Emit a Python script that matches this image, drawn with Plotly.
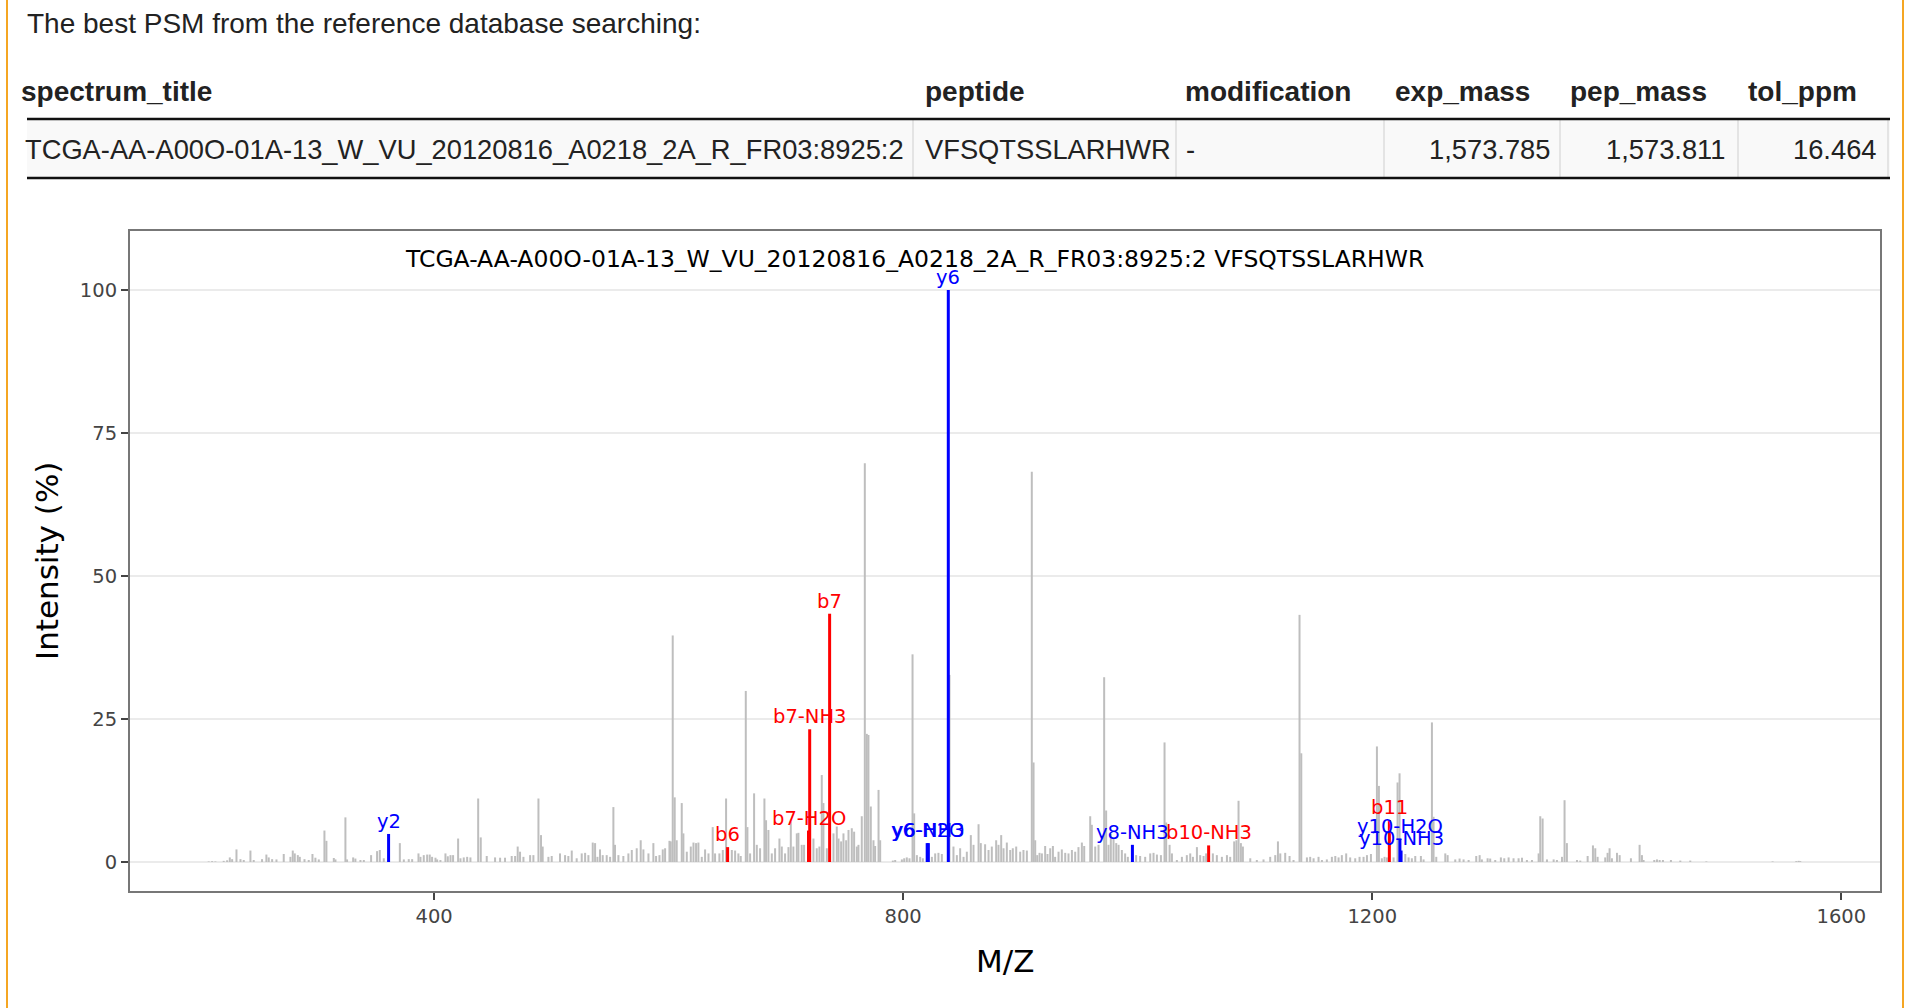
import plotly.graph_objects as go

# ---------------- data ----------------
gray_mz = [207.8, 210.7, 213.5, 220.6, 223.5, 225.8, 227.8, 231.5, 234.9, 237.7, 243.4, 246.2,
           253.3, 257.0, 259.0, 261.9, 265.6, 271.8, 277.5, 279.5, 281.2, 283.8, 285.5, 289.5,
           293.1, 296.3, 298.8, 301.7, 306.5, 308.2, 314.5, 315.9, 324.4, 325.8, 331.0, 332.9,
           337.2, 340.1, 346.3, 351.4, 353.7, 357.1, 370.8, 374.2, 378.4, 381.3, 386.7, 388.4,
           391.2, 394.1, 396.3, 398.3, 401.2, 402.6, 405.4, 409.7, 411.7, 414.0, 416.2, 420.5,
           422.5, 425.3, 428.2, 431.0, 437.6, 439.8, 444.9, 452.0, 456.3, 460.5, 466.2, 469.1,
           471.3, 473.3, 476.2, 481.9, 484.7, 489.0, 491.2, 492.6, 497.5, 500.3, 507.4, 511.7,
           514.5, 517.4, 521.6, 525.9, 528.8, 531.6, 535.3, 537.3, 539.3, 541.5, 543.8, 547.2,
           550.1, 552.9, 554.3, 557.2, 561.4, 565.7, 568.6, 572.8, 576.2, 578.5, 582.8, 587.0,
           589.3, 592.2, 595.0, 597.0, 600.7, 601.8, 603.5, 605.2, 606.9, 611.2, 612.6, 615.5,
           618.9, 621.2, 623.4, 625.4, 628.3, 631.1, 634.0, 637.6, 639.6, 643.3, 646.2, 649.0,
           653.9, 656.7, 659.5, 661.5, 665.8, 667.2, 669.5, 672.9, 675.2, 678.0, 681.7, 683.1,
           685.1, 688.0, 690.8, 694.5, 696.5, 699.3, 702.2, 704.2, 706.4, 709.3, 710.7, 713.5,
           715.5, 723.5, 726.3, 728.6, 730.6, 732.0, 734.9, 740.6, 743.4, 744.9, 747.1, 749.1,
           751.4, 753.4, 756.2, 758.2, 760.5, 761.9, 764.7, 767.3, 769.0, 770.4, 772.4, 774.7,
           776.1, 779.0, 780.4, 791.2, 793.2, 798.9, 800.9, 803.1, 805.4, 808.0, 809.4, 811.7,
           814.5, 816.8, 824.5, 827.3, 830.1, 833.0, 839.5, 842.9, 845.8, 848.6, 851.5, 854.3,
           857.7, 860.0, 864.3, 866.2, 869.9, 872.8, 875.6, 879.3, 881.3, 883.6, 885.6, 888.4,
           891.3, 893.5, 896.4, 899.8, 902.6, 905.5, 909.7, 911.2, 912.6, 914.3, 916.3, 918.3,
           921.1, 923.1, 925.4, 927.7, 929.6, 932.5, 935.3, 938.2, 941.0, 943.9, 946.7, 949.5,
           952.4, 954.4, 959.5, 960.9, 963.8, 966.6, 971.4, 973.1, 975.1, 977.1, 979.4, 981.7,
           983.7, 986.5, 989.3, 991.6, 998.7, 1002.1, 1006.4, 1010.7, 1013.5, 1016.4, 1019.8,
           1022.9, 1024.3, 1027.2, 1029.2, 1033.4, 1037.7, 1041.9, 1044.8, 1047.1, 1050.5,
           1053.3, 1056.2, 1058.4, 1064.1, 1067.5, 1071.8, 1076.1, 1078.9, 1082.3, 1084.2,
           1086.0, 1088.0, 1089.7, 1096.0, 1101.6, 1107.3, 1113.0, 1117.3, 1119.6, 1121.6,
           1125.8, 1129.5, 1132.9, 1138.0, 1139.5, 1144.3, 1147.1, 1150.0, 1154.2, 1157.1,
           1161.3, 1165.6, 1168.5, 1171.3, 1174.1, 1177.8, 1181.2, 1185.5, 1189.2, 1192.6,
           1195.5, 1198.9, 1204.0, 1205.7, 1208.2, 1210.5, 1212.5, 1218.2, 1221.6, 1223.3,
           1228.2, 1231.0, 1233.8, 1236.7, 1241.5, 1243.8, 1250.9, 1252.3, 1254.6, 1262.3,
           1264.3, 1270.8, 1274.5, 1277.9, 1282.2, 1288.7, 1291.6, 1293.5, 1298.4, 1300.6,
           1304.9, 1309.7, 1312.6, 1316.3, 1320.5, 1324.8, 1327.7, 1331.9, 1336.2, 1341.9,
           1343.3, 1345.3, 1349.0, 1354.7, 1357.5, 1361.8, 1364.0, 1366.0, 1374.6, 1377.4,
           1383.7, 1388.2, 1390.2, 1392.2, 1398.7, 1400.7, 1402.4, 1404.4, 1408.7, 1411.0,
           1420.6, 1428.0, 1430.0, 1431.4, 1440.5, 1442.8, 1445.1, 1447.9, 1454.7, 1462.7,
           1471.2, 1484.9, 1541.4, 1561.6, 1563.6, 1565.0]
gray_int = [0.1, 0.15, 0.1, 0.2, 0.3, 0.8, 0.5, 2.2, 0.5, 0.35, 2.0, 0.35,
            0.5, 1.3, 0.8, 0.5, 0.45, 1.4, 0.9, 2.0, 1.5, 1.2, 0.9, 0.5,
            0.35, 1.4, 0.75, 0.45, 5.5, 3.7, 0.7, 0.45, 7.8, 0.45, 0.8, 0.6,
            0.35, 0.35, 1.2, 1.9, 2.1, 0.65, 3.3, 0.45, 0.5, 0.5, 1.5, 0.9,
            1.2, 1.3, 1.3, 0.9, 0.75, 0.45, 0.35, 1.5, 1.0, 1.2, 1.2, 4.1,
            0.65, 0.8, 0.9, 0.8, 11.1, 4.3, 1.05, 0.8, 0.75, 0.75, 1.05, 1.05,
            2.7, 1.8, 0.9, 1.2, 1.2, 11.1, 4.7, 2.7, 0.9, 1.05, 1.5, 1.2,
            1.05, 2.0, 0.65, 1.5, 1.6, 1.2, 3.4, 3.3, 0.9, 2.2, 1.2, 1.2,
            0.9, 9.6, 3.0, 1.2, 1.05, 1.5, 2.1, 2.4, 3.8, 2.2, 1.5, 3.3,
            1.05, 1.2, 2.2, 2.4, 3.7, 3.6, 39.6, 11.3, 3.8, 10.3, 5.0, 1.8,
            2.7, 3.4, 3.3, 3.4, 0.9, 2.2, 1.5, 6.1, 1.5, 1.5, 2.1, 11.1,
            2.1, 2.0, 1.5, 1.05, 29.9, 6.1, 1.5, 12.0, 3.0, 2.4, 11.1, 7.3,
            5.6, 1.5, 2.4, 4.1, 2.7, 1.5, 2.6, 7.1, 2.7, 5.0, 5.1, 3.0,
            3.0, 4.1, 2.4, 2.7, 15.2, 10.3, 2.4, 5.0, 6.2, 4.1, 3.6, 5.0,
            3.8, 5.6, 5.9, 5.3, 2.7, 3.0, 8.0, 69.7, 22.4, 22.2, 9.7, 3.8,
            2.8, 12.6, 3.8, 0.25, 0.35, 0.45, 0.65, 0.8, 0.65, 36.3, 8.5, 1.2,
            0.9, 0.65, 0.9, 1.5, 1.6, 1.4, 32.7, 2.7, 1.2, 2.4, 0.9, 1.8,
            4.7, 3.0, 6.6, 3.3, 3.1, 2.1, 2.7, 3.8, 3.0, 4.7, 2.4, 3.4,
            2.1, 2.4, 2.7, 1.8, 2.1, 2.0, 68.2, 17.4, 3.8, 1.2, 1.6, 1.5,
            2.8, 1.4, 2.4, 2.8, 0.9, 1.8, 2.2, 1.6, 1.5, 2.1, 1.8, 2.6,
            3.4, 2.8, 8.0, 6.5, 2.7, 3.0, 32.3, 9.0, 3.0, 4.9, 4.1, 3.3,
            3.0, 2.1, 1.5, 0.9, 1.2, 1.05, 0.9, 1.5, 1.6, 1.3, 1.2,
            20.9, 6.9, 3.0, 1.5, 0.35, 0.9, 1.2, 1.5, 0.9, 2.6,
            1.2, 1.05, 1.5, 1.5, 1.2, 0.9, 1.2, 0.9, 3.6, 3.8,
            10.7, 3.3, 2.7, 0.65, 0.35, 0.45, 0.9, 1.2, 3.6, 1.5,
            1.6, 1.05, 0.35, 43.2, 19.0, 0.8, 0.9, 0.65, 0.9, 0.35,
            0.45, 0.9, 1.05, 0.8, 1.2, 1.5, 0.8, 0.65, 0.9, 0.9,
            1.2, 1.4, 20.2, 13.3, 0.65, 0.9, 0.8, 0.8, 13.9, 15.5,
            1.4, 0.8, 0.65, 1.05, 1.05, 0.45, 24.4, 7.9, 0.9, 1.5,
            1.2, 0.45, 0.6, 0.45, 0.35, 1.05, 1.2, 0.45, 0.65, 0.6,
            0.35, 0.8, 0.65, 0.8, 0.65, 0.65, 0.75, 0.35, 0.35, 1.5,
            8.0, 7.6, 0.45, 0.45, 0.35, 0.9, 10.8, 3.3, 0.35, 0.25,
            1.05, 2.9, 2.4, 0.9, 0.8, 1.6, 2.4, 0.65, 1.6, 1.2,
            0.65, 3.0, 1.2, 0.35, 0.35, 0.45, 0.35, 0.35, 0.35, 0.25,
            0.25, 0.1, 0.1, 0.15, 0.2, 0.15]

ion_labels = ["y2", "b6", "b7-H2O", "b7-NH3", "b7", "y6-H2O", "y6-NH3", "y6",
              "y8-NH3", "b10-NH3", "b11", "y10-H2O", "y10-NH3"]
ion_mz = [361.2, 650.3, 719.3, 720.3, 737.3, 820.5, 821.5, 838.5,
          995.5, 1060.5, 1214.6, 1223.6, 1224.6]
ion_int = [4.9, 2.6, 5.5, 23.2, 43.4, 3.3, 3.3, 100.0,
           3.0, 2.9, 7.3, 4.0, 2.0]
ion_series = ["y", "b", "b", "b", "b", "y", "y", "y", "y", "b", "b", "y", "y"]

spectrum_title = "TCGA-AA-A00O-01A-13_W_VU_20120816_A0218_2A_R_FR03:8925:2"
peptide = "VFSQTSSLARHWR"
table_header = ["spectrum_title", "peptide", "modification", "exp_mass", "pep_mass", "tol_ppm"]
table_row = [spectrum_title, peptide, "-", "1,573.785", "1,573.811", "16.464"]

x_ticks = [400, 800, 1200, 1600]
y_ticks = [0, 25, 50, 75, 100]

# ---------------- layout helpers (pixel -> paper) ----------------
W, H = 1924, 1008
L, R, T, B = 130, 44, 231, 117
PW, PH = W - L - R, H - T - B


def px(X):
    return (X - L) / PW


def py(Y):
    return (H - B - Y) / PH


def sticks(xs, ys):
    ox, oy = [], []
    for x, y in zip(xs, ys):
        ox += [x, x, None]
        oy += [0, y, None]
    return ox, oy


COLORS = {"b": "#ff0000", "y": "#0000ff"}
PLOT_FONT = "Verdana, DejaVu Sans, sans-serif"
HTML_FONT = "Helvetica, Liberation Sans, Arial, sans-serif"

fig = go.Figure()

gx, gy = sticks(gray_mz, gray_int)
fig.add_trace(go.Scatter(x=gx, y=gy, mode="lines", line=dict(color="#bebebe", width=2),
                         hoverinfo="skip", showlegend=False))

for s in ["b", "y"]:
    xs = [m for m, t in zip(ion_mz, ion_series) if t == s]
    ys = [v for v, t in zip(ion_int, ion_series) if t == s]
    ix, iy = sticks(xs, ys)
    fig.add_trace(go.Scatter(x=ix, y=iy, mode="lines", line=dict(color=COLORS[s], width=3),
                             hoverinfo="skip", showlegend=False))

annotations = []
for lab, m, v, s in zip(ion_labels, ion_mz, ion_int, ion_series):
    annotations.append(dict(x=m, y=v, xref="x", yref="y", text=lab, showarrow=False,
                            yanchor="bottom", xanchor="center", yshift=-1,
                            font=dict(family=PLOT_FONT, size=19.5, color=COLORS[s])))

# plot title (inside the frame)
annotations.append(dict(x=px(914), y=py(259), xref="paper", yref="paper",
                        text=spectrum_title + " " + peptide, showarrow=False,
                        xanchor="center", yanchor="middle",
                        font=dict(family=PLOT_FONT, size=23.5, color="#000000")))
# axis titles
annotations.append(dict(x=px(1005), y=py(961), xref="paper", yref="paper", text="M/Z",
                        showarrow=False, xanchor="center", yanchor="middle",
                        font=dict(family=PLOT_FONT, size=31, color="#000000")))
annotations.append(dict(x=px(47), y=py(561), xref="paper", yref="paper", text="Intensity (%)",
                        showarrow=False, xanchor="center", yanchor="middle", textangle=-90,
                        font=dict(family=PLOT_FONT, size=31, color="#000000")))

# page text above the chart
annotations.append(dict(x=px(25), y=py(24), xref="paper", yref="paper",
                        text="The best PSM from the reference database searching:",
                        showarrow=False, xanchor="left", yanchor="middle",
                        font=dict(family=HTML_FONT, size=28, color="#222222")))
head_x = [19, 923, 1183, 1393, 1568, 1746]
for txt, hx in zip(table_header, head_x):
    annotations.append(dict(x=px(hx), y=py(92), xref="paper", yref="paper", text="<b>%s</b>" % txt,
                            showarrow=False, xanchor="left", yanchor="middle",
                            font=dict(family=HTML_FONT, size=28, color="#222222")))
row_pos = [(23, "left"), (923, "left"), (1184, "left"), (1552, "right"), (1727, "right"), (1879, "right")]
for txt, (rx, anc) in zip(table_row, row_pos):
    annotations.append(dict(x=px(rx), y=py(150), xref="paper", yref="paper", text=txt,
                            showarrow=False, xanchor=anc, yanchor="middle",
                            font=dict(family=HTML_FONT, size=27.3, color="#222222")))

shapes = []
# row background
shapes.append(dict(type="rect", xref="paper", yref="paper", x0=px(27), x1=px(1890),
                   y0=py(177), y1=py(120), fillcolor="#f9f9f9", line=dict(width=0), layer="below"))
# column separators in the row
for sx in [913, 1176, 1384, 1560, 1738, 1888]:
    shapes.append(dict(type="line", xref="paper", yref="paper", x0=px(sx), x1=px(sx),
                       y0=py(177), y1=py(120), line=dict(color="#dddddd", width=1.5)))
# thick table rules
for ly in [119, 178]:
    shapes.append(dict(type="line", xref="paper", yref="paper", x0=px(27), x1=px(1890),
                       y0=py(ly), y1=py(ly), line=dict(color="#111111", width=2.5)))
# orange page borders
for ox in [7, 1903]:
    shapes.append(dict(type="line", xref="paper", yref="paper", x0=px(ox), x1=px(ox),
                       y0=py(0), y1=py(H), line=dict(color="#f5a623", width=2)))

fig.update_layout(
    width=W, height=H,
    margin=dict(l=L, r=R, t=T, b=B, pad=0),
    paper_bgcolor="#ffffff", plot_bgcolor="#ffffff",
    font=dict(family=PLOT_FONT, size=19, color="#444444"),
    showlegend=False,
    annotations=annotations,
    shapes=shapes,
    xaxis=dict(range=[140.7, 1633], tickvals=x_ticks, ticktext=[str(v) for v in x_ticks],
               showgrid=False, zeroline=False, showline=True, mirror=True,
               linecolor="#777777", linewidth=2, ticks="outside", ticklen=7, tickwidth=1.5,
               tickcolor="#444444", tickfont=dict(family=PLOT_FONT, size=19.5, color="#444444")),
    yaxis=dict(range=[-5.07, 110.3], tickvals=y_ticks, ticktext=[str(v) for v in y_ticks],
               showgrid=True, gridcolor="#ebebeb", gridwidth=1.5, zeroline=False,
               showline=True, mirror=True, linecolor="#777777", linewidth=2,
               ticks="outside", ticklen=7, tickwidth=1.5, tickcolor="#444444",
               tickfont=dict(family=PLOT_FONT, size=19.5, color="#444444")),
)

fig.write_html("out.html", config={"displayModeBar": False},
               post_script="document.body.style.margin='0px';")
